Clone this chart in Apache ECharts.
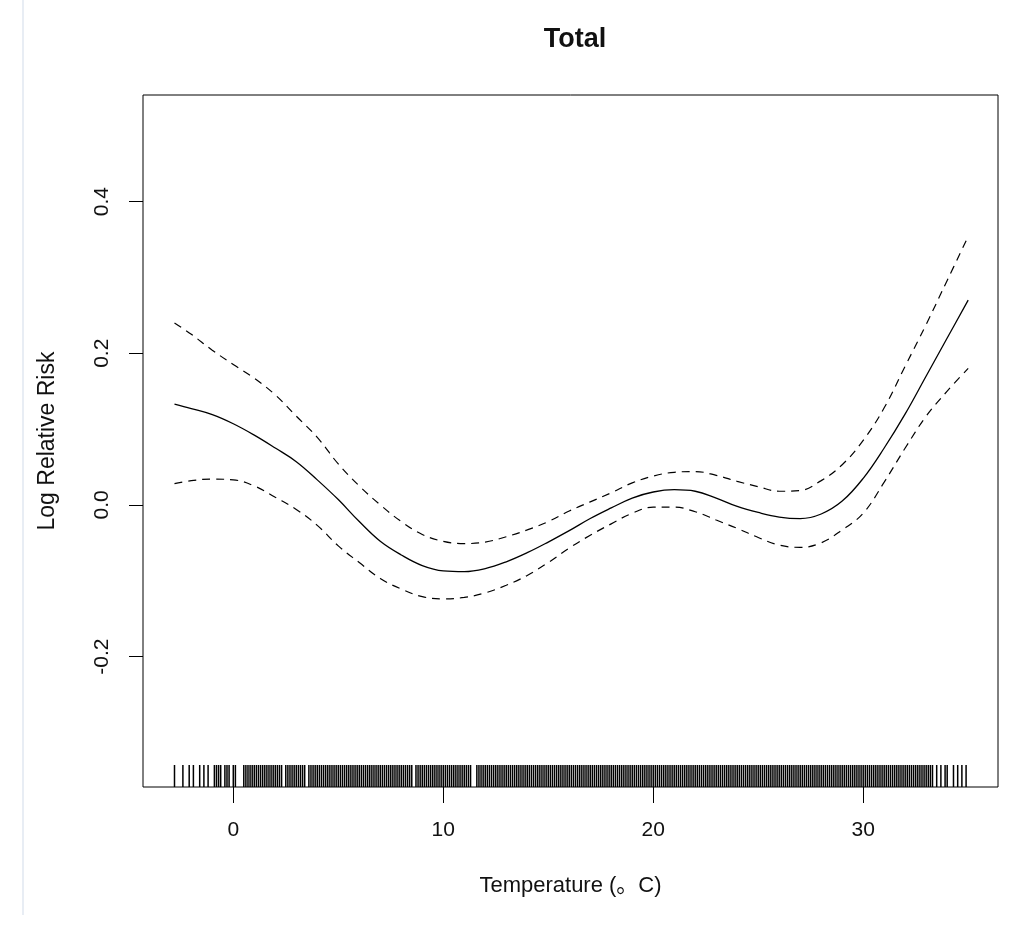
<!DOCTYPE html>
<html>
<head>
<meta charset="utf-8">
<title>Total</title>
<script src="https://cdn.jsdelivr.net/npm/echarts@6/dist/echarts.min.js"></script>
<style>
  html, body { margin: 0; padding: 0; background: #fff; }
  #chart { width: 1024px; height: 937px; }
</style>
</head>
<body>
<div id="chart"></div>
<script>
// temperature grid (°C) and estimated curves
const temps = [-2.8, -2, -1, 0, 1, 2, 3, 4, 5, 6, 7, 8, 9, 10, 11, 12, 13, 14, 15, 16, 17, 18, 19,
  20, 21, 22, 23, 24, 25, 26, 27, 28, 29, 30, 31, 32, 33, 34, 35];
const logRR = [0.133, 0.127, 0.119, 0.107, 0.092, 0.075, 0.057, 0.033, 0.007, -0.022, -0.048, -0.066,
  -0.080, -0.087, -0.088, -0.084, -0.075, -0.063, -0.049, -0.034, -0.018, -0.004, 0.009, 0.017, 0.020,
  0.018, 0.009, -0.002, -0.010, -0.016, -0.018, -0.012, 0.005, 0.035, 0.075, 0.120, 0.170, 0.220, 0.270];
const upperCI = [0.240, 0.225, 0.204, 0.185, 0.167, 0.145, 0.117, 0.089, 0.054, 0.025, 0.000, -0.022,
  -0.039, -0.048, -0.051, -0.049, -0.042, -0.033, -0.022, -0.008, 0.004, 0.016, 0.029, 0.038, 0.043,
  0.044, 0.039, 0.031, 0.024, 0.018, 0.019, 0.032, 0.053, 0.085, 0.128, 0.183, 0.238, 0.296, 0.354];
const lowerCI = [0.028, 0.032, 0.034, 0.033, 0.025, 0.010, -0.006, -0.027, -0.054, -0.076, -0.097, -0.111,
  -0.121, -0.124, -0.122, -0.116, -0.106, -0.093, -0.076, -0.057, -0.040, -0.025, -0.011, -0.003, -0.003,
  -0.009, -0.020, -0.031, -0.043, -0.053, -0.056, -0.050, -0.033, -0.011, 0.030, 0.075, 0.117, 0.150, 0.180];

// observed temperatures (rug)
const rugTemps = [
  -2.8, -2.4, -2.1, -1.9, -1.6, -1.4, -1.2, -0.9, -0.8, -0.7, -0.6, -0.4, -0.3, -0.2, 0.0, 0.1,
  0.5, 0.6, 0.7, 0.8, 0.9,
  1.0, 1.1, 1.2, 1.3, 1.4, 1.5, 1.6, 1.7, 1.8, 1.9,
  2.0, 2.1, 2.2, 2.3, 2.5, 2.6, 2.7, 2.8, 2.9,
  3.0, 3.1, 3.2, 3.3, 3.4, 3.6, 3.7, 3.8, 3.9,
  4.0, 4.1, 4.2, 4.3, 4.4, 4.5, 4.6, 4.7, 4.8, 4.9,
  5.0, 5.1, 5.2, 5.3, 5.4, 5.5, 5.6, 5.7, 5.8, 5.9,
  6.0, 6.1, 6.2, 6.3, 6.4, 6.5, 6.6, 6.7, 6.8, 6.9,
  7.0, 7.1, 7.2, 7.3, 7.4, 7.5, 7.6, 7.7, 7.8, 7.9,
  8.0, 8.1, 8.2, 8.3, 8.4, 8.5, 8.7, 8.8, 8.9,
  9.0, 9.1, 9.2, 9.3, 9.4, 9.5, 9.6, 9.7, 9.8, 9.9,
  10.0, 10.1, 10.2, 10.3, 10.4, 10.5, 10.6, 10.7, 10.8, 10.9,
  11.0, 11.1, 11.2, 11.3, 11.6, 11.7, 11.8, 11.9,
  12.0, 12.1, 12.2, 12.3, 12.4, 12.5, 12.6, 12.7, 12.8, 12.9,
  13.0, 13.1, 13.2, 13.3, 13.4, 13.5, 13.6, 13.7, 13.8, 13.9,
  14.0, 14.1, 14.2, 14.3, 14.4, 14.5, 14.6, 14.7, 14.8, 14.9,
  15.0, 15.1, 15.2, 15.3, 15.4, 15.5, 15.6, 15.7, 15.8, 15.9,
  16.0, 16.1, 16.2, 16.3, 16.4, 16.5, 16.6, 16.7, 16.8, 16.9,
  17.0, 17.1, 17.2, 17.3, 17.4, 17.5, 17.6, 17.7, 17.8, 17.9,
  18.0, 18.1, 18.2, 18.3, 18.4, 18.5, 18.6, 18.7, 18.8, 18.9,
  19.0, 19.1, 19.2, 19.3, 19.4, 19.5, 19.6, 19.7, 19.8, 19.9,
  20.0, 20.1, 20.2, 20.3, 20.4, 20.5, 20.6, 20.7, 20.8, 20.9,
  21.0, 21.1, 21.2, 21.3, 21.4, 21.5, 21.6, 21.7, 21.8, 21.9,
  22.0, 22.1, 22.2, 22.3, 22.4, 22.5, 22.6, 22.7, 22.8, 22.9,
  23.0, 23.1, 23.2, 23.3, 23.4, 23.5, 23.6, 23.7, 23.8, 23.9,
  24.0, 24.1, 24.2, 24.3, 24.4, 24.5, 24.6, 24.7, 24.8, 24.9,
  25.0, 25.1, 25.2, 25.3, 25.4, 25.5, 25.6, 25.7, 25.8, 25.9,
  26.0, 26.1, 26.2, 26.3, 26.4, 26.5, 26.6, 26.7, 26.8, 26.9,
  27.0, 27.1, 27.2, 27.3, 27.4, 27.5, 27.6, 27.7, 27.8, 27.9,
  28.0, 28.1, 28.2, 28.3, 28.4, 28.5, 28.6, 28.7, 28.8, 28.9,
  29.0, 29.1, 29.2, 29.3, 29.4, 29.5, 29.6, 29.7, 29.8, 29.9,
  30.0, 30.1, 30.2, 30.3, 30.4, 30.5, 30.6, 30.7, 30.8, 30.9,
  31.0, 31.1, 31.2, 31.3, 31.4, 31.5, 31.6, 31.7, 31.8, 31.9,
  32.0, 32.1, 32.2, 32.3, 32.4, 32.5, 32.6, 32.7, 32.8, 32.9,
  33.0, 33.1, 33.2, 33.3, 33.5, 33.7, 33.9,
  34.0, 34.3, 34.5, 34.7, 34.9
];

const xTicks = [0, 10, 20, 30];
const yTicks = [-0.2, 0.0, 0.2, 0.4];

// R-style padded ranges
const xMin = -4.30, xMax = 36.42;
const yMin = -0.372, yMax = 0.5405;

const FONT = '"Liberation Sans", Arial, "Noto Sans CJK SC", sans-serif';

const pairs = vals => temps.map((t, i) => [t, vals[i]]);

const chart = echarts.init(document.getElementById('chart'), null, { renderer: 'canvas' });

chart.setOption({
  animation: false,
  backgroundColor: '#fff',
  title: {
    text: 'Total',
    left: 570,
    top: 21,
    textAlign: 'center',
    textStyle: { fontFamily: FONT, fontSize: 27, fontWeight: 'bold', color: '#111' }
  },
  graphic: [{
    type: 'rect',
    shape: { x: 22, y: 0, width: 2, height: 915 },
    style: { fill: '#e8edf4' },
    silent: true
  }],
  grid: {
    left: 143, right: 26, top: 95, bottom: 150,
    show: true, borderColor: '#000', borderWidth: 1, backgroundColor: 'transparent'
  },
  xAxis: {
    type: 'value',
    min: xMin, max: xMax,
    name: 'Temperature (。C)',
    nameLocation: 'middle',
    nameGap: 88,
    nameTextStyle: { fontFamily: FONT, fontSize: 22, color: '#111' },
    splitLine: { show: false },
    axisLine: { show: false, onZero: false },
    axisTick: { show: true, inside: false, length: 16, customValues: xTicks, lineStyle: { color: '#000', width: 1 } },
    axisLabel: {
      customValues: xTicks, margin: 33,
      fontFamily: FONT, fontSize: 21, color: '#111'
    }
  },
  yAxis: {
    type: 'value',
    min: yMin, max: yMax,
    name: 'Log Relative Risk',
    nameLocation: 'middle',
    nameGap: 84,
    nameRotate: 90,
    nameTextStyle: { fontFamily: FONT, fontSize: 23, color: '#111' },
    splitLine: { show: false },
    axisLine: { show: false, onZero: false },
    axisTick: { show: true, inside: false, length: 14, customValues: yTicks, lineStyle: { color: '#000', width: 1 } },
    axisLabel: {
      customValues: yTicks, margin: 30, rotate: 90,
      fontFamily: FONT, fontSize: 21, color: '#111',
      formatter: v => v.toFixed(1)
    }
  },
  series: [
    {
      name: 'upper',
      type: 'line',
      data: pairs(upperCI),
      smooth: 0.4,
      showSymbol: false,
      lineStyle: { color: '#000', width: 1.2, type: [8, 6] },
      silent: true
    },
    {
      name: 'lower',
      type: 'line',
      data: pairs(lowerCI),
      smooth: 0.4,
      showSymbol: false,
      lineStyle: { color: '#000', width: 1.2, type: [8, 6] },
      silent: true
    },
    {
      name: 'logRR',
      type: 'line',
      data: pairs(logRR),
      smooth: 0.4,
      showSymbol: false,
      lineStyle: { color: '#000', width: 1.3 },
      silent: true
    },
    {
      name: 'rug',
      type: 'custom',
      data: rugTemps.map(t => [t, yMin]),
      silent: true,
      renderItem: (params, api) => {
        const p = api.coord([api.value(0), api.value(1)]);
        return {
          type: 'line',
          shape: { x1: p[0], y1: p[1], x2: p[0], y2: p[1] - 22 },
          style: { stroke: '#000', lineWidth: 1.5 }
        };
      }
    }
  ]
});
</script>
</body>
</html>
